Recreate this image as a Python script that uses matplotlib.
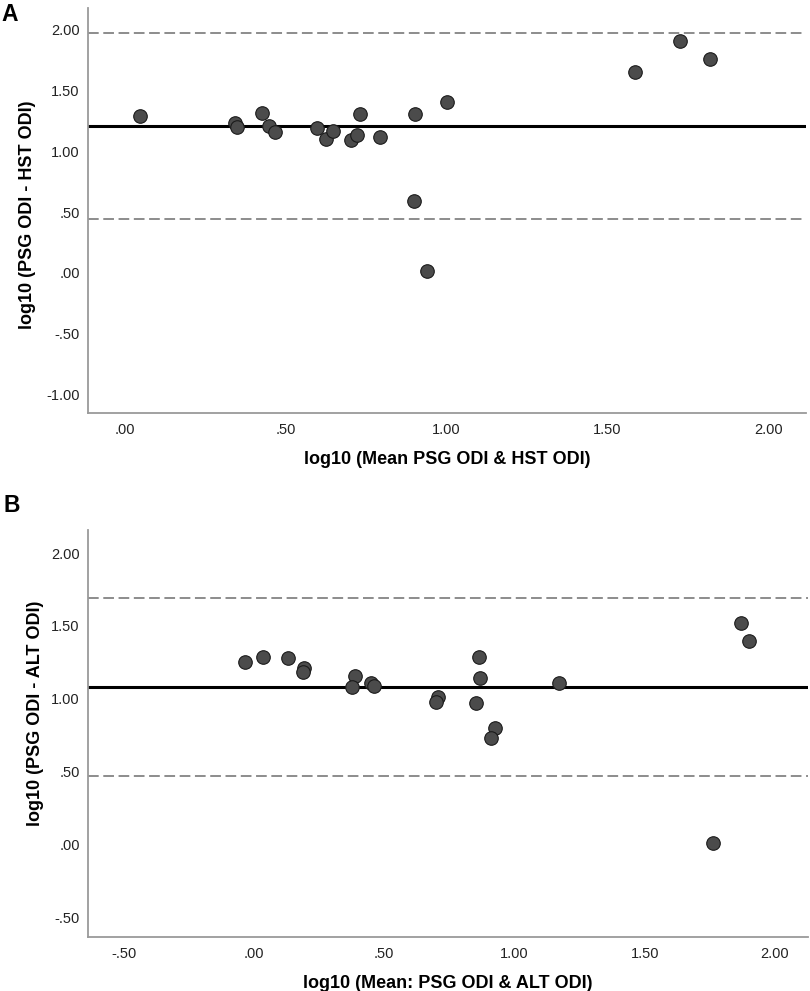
import numpy as np
import matplotlib
matplotlib.use("Agg")
import matplotlib.pyplot as plt
from matplotlib.ticker import FuncFormatter, MultipleLocator

plt.rcParams['font.family'] = ['Liberation Sans', 'DejaVu Sans']

## Panel A: PSG vs HST
hst_mean = [0.047, 0.342, 0.347, 0.426, 0.448, 0.467, 0.598, 0.625, 0.646, 0.703,
            0.720, 0.731, 0.794, 0.902, 0.898, 0.938, 1.002, 1.585, 1.727, 1.819]
hst_diff = [1.290, 1.229, 1.202, 1.317, 1.210, 1.161, 1.191, 1.101, 1.167, 1.095,
            1.134, 1.309, 1.117, 1.303, 0.588, 0.016, 1.405, 1.650, 1.906, 1.756]
hst_bias = 1.210
hst_loa = [0.446, 1.972]

## Panel B: PSG vs ALT
alt_mean = [-0.036, 0.036, 0.130, 0.192, 0.186, 0.386, 0.377, 0.449, 0.459, 0.708,
            0.698, 0.863, 0.867, 0.854, 0.926, 0.909, 1.169, 1.869, 1.899, 1.761]
alt_diff = [1.251, 1.288, 1.281, 1.215, 1.185, 1.158, 1.082, 1.107, 1.091, 1.011,
            0.982, 1.286, 1.144, 0.970, 0.801, 0.735, 1.112, 1.518, 1.395, 0.012]
alt_bias = 1.082
alt_loa = [0.473, 1.694]


def spss_fmt(v, pos):
    """SPSS style labels: .50, -.50, 1.00"""
    s = f"{v:.2f}"
    if s.startswith("0."):
        s = s[1:]
    elif s.startswith("-0."):
        s = "-" + s[2:]
    return s


def bland_altman(ax, x, y, bias, loa, xlabel, ylabel, xlim, ylim, ylab_pos):
    for lim in loa:
        ax.axhline(lim, color="#6e6e6e", lw=1.1, dashes=(7, 3), zorder=1)
    ax.axhline(bias, color="black", lw=2.2, zorder=2)
    ax.scatter(x, y, s=95, facecolor="#4b4b4b", edgecolor="#1a1a1a",
               linewidth=0.8, zorder=3)

    ax.set_xlim(*xlim)
    ax.set_ylim(*ylim)
    ax.xaxis.set_major_locator(MultipleLocator(0.5))
    ax.yaxis.set_major_locator(MultipleLocator(0.5))
    ax.xaxis.set_major_formatter(FuncFormatter(spss_fmt))
    ax.yaxis.set_major_formatter(FuncFormatter(spss_fmt))
    ax.tick_params(length=0, labelsize=10.5, colors="#222222")
    ax.tick_params(axis="x", pad=7)
    ax.tick_params(axis="y", pad=6)

    for side in ["top", "right"]:
        ax.spines[side].set_visible(False)
    for side in ["left", "bottom"]:
        ax.spines[side].set_color("#9a9a9a")
        ax.spines[side].set_linewidth(1.3)

    ax.set_xlabel(xlabel, fontsize=13, fontweight="bold", labelpad=10)
    ax.set_ylabel(ylabel, fontsize=13, fontweight="bold")
    ax.yaxis.set_label_coords(ylab_pos[0], ylab_pos[1])


fig = plt.figure(figsize=(8.1, 9.91), dpi=100)
ax_a = fig.add_axes([0.1086, 0.5833, 0.8864, 0.4087])
ax_b = fig.add_axes([0.1086, 0.0545, 0.8889, 0.4107])

bland_altman(ax_a, hst_mean, hst_diff, hst_bias, hst_loa,
             "log10 (Mean PSG ODI & HST ODI)", "log10 (PSG ODI - HST ODI)",
             (-0.115, 2.117), (-1.150, 2.178), (-0.072, 0.49))
bland_altman(ax_b, alt_mean, alt_diff, alt_bias, alt_loa,
             "log10 (Mean: PSG ODI & ALT ODI)", "log10 (PSG ODI - ALT ODI)",
             (-0.638, 2.127), (-0.632, 2.158), (-0.061, 0.55))

fig.text(0.002, 0.997, "A", fontsize=16.5, fontweight="bold", va="top", ha="left")
fig.text(0.004, 0.502, "B", fontsize=16.5, fontweight="bold", va="top", ha="left")

fig.savefig("out.png", dpi=100)
